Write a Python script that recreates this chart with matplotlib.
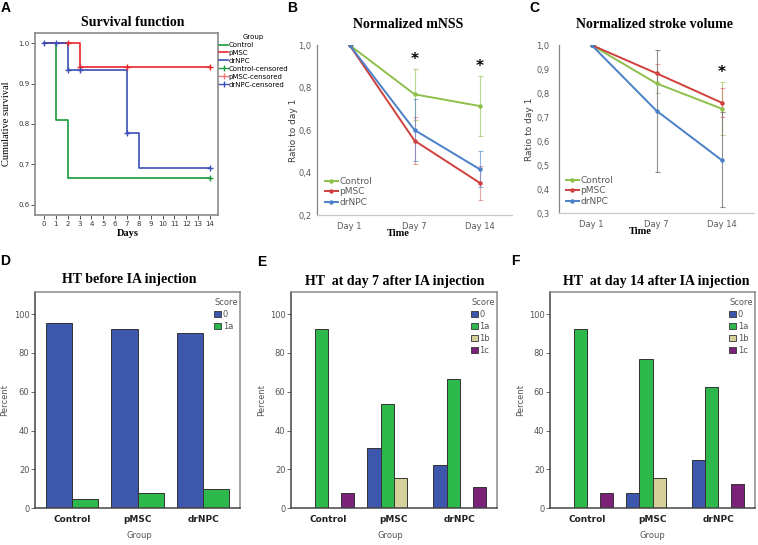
import matplotlib
matplotlib.use('Agg')
import matplotlib.pyplot as plt
from matplotlib.lines import Line2D
from matplotlib.patches import Patch
from matplotlib.ticker import FuncFormatter
import numpy as np

# ---- A: survival function (Kaplan-Meier steps) ----
ctrl_days = [0, 1, 2, 14]
ctrl_surv = [1.0, 0.81, 0.667, 0.667]
pmsc_days = [0, 3, 14]
pmsc_surv = [1.0, 0.941, 0.941]
drnpc_days = [0, 2, 7, 8, 14]
drnpc_surv = [1.0, 0.933, 0.778, 0.692, 0.692]

ctrl_cens_days = [14]
ctrl_cens_surv = [0.667]
pmsc_cens_days = [2, 3, 7, 14]
pmsc_cens_surv = [1.0, 0.941, 0.941, 0.941]
drnpc_cens_days = [0, 1, 2, 3, 7, 14]
drnpc_cens_surv = [1.0, 1.0, 0.933, 0.933, 0.778, 0.692]

# ---- B / C: normalized scores ----
time_labels = ['Day 1', 'Day 7', 'Day 14']
mnss_ctrl = [1.0, 0.768, 0.713]
mnss_ctrl_err = [0, 0.12, 0.142]
mnss_pmsc = [1.0, 0.55, 0.352]
mnss_pmsc_err = [0, 0.11, 0.08]
mnss_drnpc = [1.0, 0.60, 0.416]
mnss_drnpc_err = [0, 0.145, 0.085]
mnss_signif = [False, True, True]

sv_ctrl = [1.0, 0.84, 0.735]
sv_ctrl_err = [0, 0.04, 0.11]
sv_pmsc = [1.0, 0.882, 0.76]
sv_pmsc_err = [0, 0.04, 0.06]
sv_drnpc = [1.0, 0.726, 0.521]
sv_drnpc_err = [0, 0.255, 0.198]
sv_signif = [False, False, True]

# ---- D / E / F: HT score percentages ----
groups = ['Control', 'pMSC', 'drNPC']
before_0 = [95.2, 92.3, 90.0]
before_1a = [4.8, 7.7, 10.0]
day7_0 = [0, 30.8, 22.2]
day7_1a = [92.3, 53.8, 66.7]
day7_1b = [0, 15.4, 0]
day7_1c = [7.7, 0, 11.1]
day14_0 = [0, 7.7, 25.0]
day14_1a = [92.3, 76.9, 62.5]
day14_1b = [0, 15.4, 0]
day14_1c = [7.7, 0, 12.5]

W, H = 758, 545
fig = plt.figure(figsize=(W / 100, H / 100), dpi=100)


def add_ax(l, t, r, b):
    return fig.add_axes([l / W, 1 - b / H, (r - l) / W, (b - t) / H])


def ftext(x, y, s, **kw):
    fig.text(x / W, 1 - y / H, s, **kw)


SERIF = 'Liberation Serif'
SANS = 'Liberation Sans'

# panel letters
for letter, (x, y) in zip('ABCDEF', [(6, 8), (292, 8), (534, 8), (5, 261), (262, 262), (515, 261)]):
    ftext(x, y, letter, fontsize=10, fontweight='bold', family=SANS, ha='center', va='center')

# ---------------- A ----------------
axA = add_ax(35, 33, 218, 215)
green_km, red_km, blue_km = '#1a9a3c', '#e8252a', '#3b4fb8'
axA.step(ctrl_days, ctrl_surv, where='post', color=green_km, lw=1.2)
axA.step(pmsc_days, pmsc_surv, where='post', color=red_km, lw=1.2)
axA.step(drnpc_days, drnpc_surv, where='post', color=blue_km, lw=1.2)
axA.plot(ctrl_cens_days, ctrl_cens_surv, '+', color=green_km, ms=5, mew=1)
axA.plot(pmsc_cens_days, pmsc_cens_surv, '+', color=red_km, ms=5, mew=1)
axA.plot(drnpc_cens_days, drnpc_cens_surv, '+', color=blue_km, ms=5, mew=1)
axA.set_xlim(-0.76, 14.68)
axA.set_ylim(0.575, 1.025)
axA.set_xticks(range(0, 15))
axA.set_yticks([0.6, 0.7, 0.8, 0.9, 1.0])
axA.tick_params(labelsize=5, length=3, width=0.6, colors='#333', pad=1)
for sp in axA.spines.values():
    sp.set_color('#8a8a8a')
    sp.set_linewidth(1.2)
handles = [Line2D([], [], color=green_km, lw=1.2), Line2D([], [], color=red_km, lw=1.2),
           Line2D([], [], color=blue_km, lw=1.2),
           Line2D([], [], color=green_km, lw=1, marker='|', ms=5),
           Line2D([], [], color='#f07878', lw=1, marker='|', ms=5),
           Line2D([], [], color=blue_km, lw=1, marker='|', ms=5)]
labels = ['Control', 'pMSC', 'drNPC', 'Control-censored', 'pMSC-censored', 'drNPC-censored']
legA = axA.legend(handles, labels, loc='upper left', bbox_to_anchor=(219 / W, 1 - 34 / H),
                  bbox_transform=fig.transFigure, frameon=False, fontsize=5, title='Group',
                  title_fontsize=5, handlelength=1.3, handletextpad=0.1, labelspacing=0.28,
                  borderpad=0, borderaxespad=0)
ftext(133, 23, 'Survival function', fontsize=10, fontweight='bold', family=SERIF, ha='center', va='center')
ftext(128, 234, 'Days', fontsize=7.5, fontweight='bold', family=SERIF, ha='center', va='center')
ftext(7, 124, 'Cumulative survival', fontsize=7.5, family=SERIF, ha='center', va='center', rotation=90)

# ---------------- B / C ----------------
xl_green, xl_red, xl_blue = '#8dbf4a', '#d0403c', '#4a80c8'
comma = FuncFormatter(lambda v, p: f'{v:.1f}'.replace('.', ','))


def excel_line(ax, series, errs, colors, ecolors, signif, ylim, yticks, ypad):
    x = np.arange(len(time_labels))
    for vals, err, c, ec in zip(series, errs, colors, ecolors):
        ax.errorbar(x, vals, yerr=err, fmt='none', ecolor=ec, elinewidth=0.8, capsize=1.8, capthick=0.8)
    for vals, c in zip(series, colors):
        ax.plot(x, vals, color=c, lw=1.4, marker='o', ms=2.2)
    tops = np.max([np.array(v) + np.array(e) for v, e in zip(series, errs)], axis=0)
    for xi, top, s in zip(x, tops, signif):
        if s:
            ax.text(xi, top + 0.008, '*', fontsize=11, fontweight='bold', ha='center', va='bottom')
    ax.set_xlim(-0.5, 2.5)
    ax.set_ylim(*ylim)
    ax.set_yticks(yticks)
    ax.yaxis.set_major_formatter(comma)
    ax.set_xticks(x)
    ax.set_xticklabels(time_labels)
    ax.tick_params(length=0, labelsize=6, colors='#595959')
    ax.tick_params(axis='x', pad=5)
    ax.tick_params(axis='y', pad=ypad)
    for side in ['top', 'right']:
        ax.spines[side].set_visible(False)
    ax.spines['left'].set_color('#868686')
    ax.spines['bottom'].set_color('#c8c8c8')
    ax.spines['left'].set_linewidth(0.9)
    ax.spines['bottom'].set_linewidth(0.9)


axB = add_ax(317, 45, 512, 215)
excel_line(axB, [mnss_ctrl, mnss_pmsc, mnss_drnpc], [mnss_ctrl_err, mnss_pmsc_err, mnss_drnpc_err],
           [xl_green, xl_red, xl_blue], [(0.55, 0.75, 0.3, 0.6), (0.85, 0.3, 0.3, 0.5), (0.3, 0.5, 0.8, 0.6)],
           mnss_signif, (0.2, 1.0), [0.2, 0.4, 0.6, 0.8, 1.0], 4)
axC = add_ax(559, 45, 754, 213)
excel_line(axC, [sv_ctrl, sv_pmsc, sv_drnpc], [sv_ctrl_err, sv_pmsc_err, sv_drnpc_err],
           [xl_green, xl_red, xl_blue], [(0.55, 0.75, 0.3, 0.6), (0.85, 0.3, 0.3, 0.5), (0.45, 0.45, 0.45, 0.8)],
           sv_signif, (0.3, 1.0), [0.3, 0.4, 0.5, 0.6, 0.7, 0.8, 0.9, 1.0], 7)

for ax, (lx, ly) in [(axB, (325, 177)), (axC, (566, 176))]:
    h = [Line2D([], [], color=c, lw=1.4, marker='o', ms=2.2) for c in [xl_green, xl_red, xl_blue]]
    ax.legend(h, ['Control', 'pMSC', 'drNPC'], loc='upper left', bbox_to_anchor=(lx / W, 1 - ly / H),
              bbox_transform=fig.transFigure, frameon=False, fontsize=6.5, labelcolor='#595959',
              handlelength=1.4, handletextpad=0.2, labelspacing=0.15, borderpad=0, borderaxespad=0)

ftext(408, 24, 'Normalized mNSS', fontsize=10, fontweight='bold', family=SERIF, ha='center', va='center')
ftext(655, 24, 'Normalized stroke volume', fontsize=10, fontweight='bold', family=SERIF, ha='center', va='center')
ftext(398, 233, 'Time', fontsize=7.5, fontweight='bold', family=SERIF, ha='center', va='center')
ftext(640, 232, 'Time', fontsize=7.5, fontweight='bold', family=SERIF, ha='center', va='center')
ftext(293, 130, 'Ratio to day 1', fontsize=6.5, color='#404040', ha='center', va='center', rotation=90)
ftext(530, 129, 'Ratio to day 1', fontsize=6.5, color='#404040', ha='center', va='center', rotation=90)

# ---------------- D / E / F ----------------
score_colors = {'0': '#3d57ac', '1a': '#2db84b', '1b': '#d6d19b', '1c': '#7b2178'}


def spss_bars(ax, series, scores):
    n = len(scores)
    width = 0.8 / n
    x = np.arange(len(groups))
    for i, (vals, sc) in enumerate(zip(series, scores)):
        ax.bar(x - 0.4 + width * (i + 0.5), vals, width, color=score_colors[sc],
               edgecolor='#333333', linewidth=0.7)
    ax.set_xlim(-0.56, 2.56)
    ax.set_ylim(0, 111.5)
    ax.set_yticks([0, 20, 40, 60, 80, 100])
    ax.set_xticks(x)
    ax.set_xticklabels(groups, fontsize=6.5, fontweight='bold', color='#222')
    ax.tick_params(axis='x', length=0, pad=5)
    ax.tick_params(axis='y', length=3, width=0.6, labelsize=6, colors='#555', pad=1)
    for sp in ax.spines.values():
        sp.set_color('#8a8a8a')
        sp.set_linewidth(1.1)
    ax.spines['left'].set_color('#444')
    ax.spines['bottom'].set_color('#444')
    h = [Patch(facecolor=score_colors[s], edgecolor='#333', linewidth=0.6) for s in scores]
    leg = ax.legend(h, scores, loc='upper right', bbox_to_anchor=(0.99, 0.97), frameon=False,
                    fontsize=6, title='Score', title_fontsize=6, labelcolor='#555',
                    handlelength=0.8, handleheight=0.8, handletextpad=0.2, labelspacing=0.35,
                    borderpad=0, borderaxespad=0)
    leg.get_title().set_color('#555')
    leg._legend_box.align = 'left'


axD = add_ax(35, 291.7, 240, 508.3)
spss_bars(axD, [before_0, before_1a], ['0', '1a'])
axE = add_ax(291, 291.7, 496.7, 508.3)
spss_bars(axE, [day7_0, day7_1a, day7_1b, day7_1c], ['0', '1a', '1b', '1c'])
axF = add_ax(550, 291.7, 755, 508.3)
spss_bars(axF, [day14_0, day14_1a, day14_1b, day14_1c], ['0', '1a', '1b', '1c'])

ftext(129, 280, 'HT before IA injection', fontsize=10, fontweight='bold', family=SERIF, ha='center', va='center')
ftext(395, 281, 'HT  at day 7 after IA injection', fontsize=10, fontweight='bold', family=SERIF, ha='center', va='center')
ftext(656, 281, 'HT  at day 14 after IA injection', fontsize=10, fontweight='bold', family=SERIF, ha='center', va='center')
for x in [139, 390, 652]:
    ftext(x, 536, 'Group', fontsize=6, color='#555', ha='center', va='center')
for x in [5, 262, 521]:
    ftext(x, 400, 'Percent', fontsize=6, color='#555', ha='center', va='center', rotation=90)

fig.savefig('out.png', dpi=100)
